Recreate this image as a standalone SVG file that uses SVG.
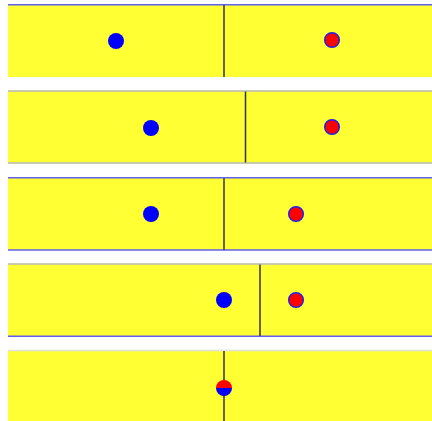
<svg xmlns="http://www.w3.org/2000/svg" width="432" height="421" viewBox="0 0 432 421">
<style>
.panel{fill:#ffff33}
.eb{stroke:#6060ee;stroke-width:1.5}
.eg{stroke:#b8b8a0;stroke-width:1.5}
.div{stroke:#333;stroke-width:1.5}
.blue{fill:#0000ff}
.red{fill:#ff0000;stroke:#2020f0;stroke-width:1.5}
</style>
<rect width="432" height="421" fill="#ffffff"/>
<g id="panel1">
<rect class="panel" x="8" y="5" width="424" height="72"/>
<line class="eb" x1="8" y1="4.75" x2="432" y2="4.75"/>
<line class="div" x1="224" y1="5" x2="224" y2="77"/>
<circle class="blue" cx="116" cy="41" r="8"/>
<circle class="red" cx="332" cy="40" r="7.3"/>
</g>
<g id="panel2">
<rect class="panel" x="8" y="91.5" width="424" height="71"/>
<line class="eg" x1="8" y1="91" x2="432" y2="91"/>
<line class="eg" x1="8" y1="163" x2="432" y2="163"/>
<line class="div" x1="245.5" y1="91.5" x2="245.5" y2="162.5"/>
<circle class="blue" cx="151" cy="128" r="8"/>
<circle class="red" cx="332" cy="127" r="7.3"/>
</g>
<g id="panel3">
<rect class="panel" x="8" y="178" width="424" height="72"/>
<line class="eb" x1="8" y1="177.75" x2="432" y2="177.75"/>
<line class="eb" x1="8" y1="250" x2="432" y2="250"/>
<line class="div" x1="224" y1="178" x2="224" y2="250"/>
<circle class="blue" cx="151" cy="214" r="8"/>
<circle class="red" cx="296" cy="214" r="7.3"/>
</g>
<g id="panel4">
<rect class="panel" x="8" y="264.5" width="424" height="71.5"/>
<line class="eg" x1="8" y1="264" x2="432" y2="264"/>
<line class="eb" x1="8" y1="336.25" x2="432" y2="336.25"/>
<line class="div" x1="260" y1="264.5" x2="260" y2="336"/>
<circle class="blue" cx="224" cy="300" r="8"/>
<circle class="red" cx="296" cy="300" r="7.3"/>
</g>
<g id="panel5">
<rect class="panel" x="8" y="351" width="424" height="70"/>
<line stroke="#e0e0e0" stroke-width="1.5" x1="8" y1="350.5" x2="432" y2="350.5"/>
<line class="div" x1="224" y1="351" x2="224" y2="421"/>
<path d="M216 388 A8 8 0 0 1 232 388 Z" fill="#ff0000"/>
<path d="M216 388 A8 8 0 0 0 232 388 Z" fill="#0000ff"/>
</g>
</svg>
